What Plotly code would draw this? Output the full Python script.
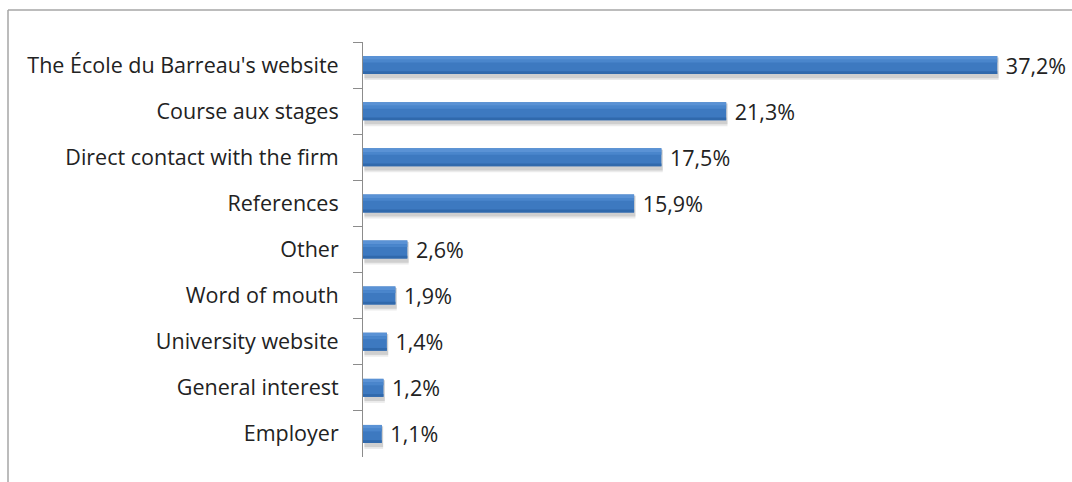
import plotly.graph_objects as go

categories = [
    "The École du Barreau's website",
    "Course aux stages",
    "Direct contact with the firm",
    "References",
    "Other",
    "Word of mouth",
    "University website",
    "General interest",
    "Employer",
]
shares = [37.2, 21.3, 17.5, 15.9, 2.6, 1.9, 1.4, 1.2, 1.1]

W, H = 1072, 482
L, R, T, B = 363, 27, 42, 25
pw, ph = W - L - R, H - T - B

def px_x(p):
    return (p - L) / pw

def px_y(p):
    return 1 - (p - T) / ph

labels = [" " + f"{v:.1f}%".replace(".", ",") for v in shares]

BAR_W = 0.39          # bar thickness in category units
HALF = BAR_W / 2

fig = go.Figure()

# soft drop shadow under each bar
for extra, alpha in [(0.10, 0.10), (0.06, 0.16)]:
    fig.add_trace(go.Bar(
        y=categories, x=shares, orientation="h",
        base=0.08,
        offset=-HALF + 0.03, width=BAR_W + extra,
        marker=dict(color=f"rgba(60,60,60,{alpha})", line=dict(width=0)),
        hoverinfo="skip",
    ))

# main bar body
fig.add_trace(go.Bar(
    y=categories, x=shares, orientation="h",
    offset=-HALF, width=BAR_W,
    marker=dict(color="#3D79C0", line=dict(width=0)),
    text=labels,
    textposition="outside",
    constraintext="none",
    textfont=dict(size=21.5, color="#222222", family="Open Sans"),
    cliponaxis=False,
    hoverinfo="skip",
))

# lighter upper band and darker lower edge give the bar its sheen
fig.add_trace(go.Bar(
    y=categories, x=shares, orientation="h",
    offset=-HALF, width=0.08,
    marker=dict(color="#5A92D5", line=dict(width=0)),
    hoverinfo="skip",
))
fig.add_trace(go.Bar(
    y=categories, x=shares, orientation="h",
    offset=-HALF + 0.08, width=0.06,
    marker=dict(color="#4A86CC", line=dict(width=0)),
    hoverinfo="skip",
))
fig.add_trace(go.Bar(
    y=categories, x=shares, orientation="h",
    offset=HALF - 0.06, width=0.06,
    marker=dict(color="#3069AC", line=dict(width=0)),
    hoverinfo="skip",
))

# light frame along the top and left edges
frame = dict(type="line", xref="paper", yref="paper",
             line=dict(color="#a6a6a6", width=1.5))
fig.add_shape(**frame, x0=px_x(8), x1=px_x(W + 5), y0=px_y(10), y1=px_y(10))
fig.add_shape(**frame, x0=px_x(8), x1=px_x(8), y0=px_y(10), y1=px_y(H + 5))

fig.update_layout(
    width=W, height=H,
    margin=dict(l=L, r=R, t=T, b=B, pad=0),
    paper_bgcolor="white", plot_bgcolor="white",
    showlegend=False,
    barmode="overlay",
    font=dict(family="Open Sans", size=21.5, color="#222222"),
    xaxis=dict(range=[0, 40], visible=False, fixedrange=True),
    yaxis=dict(
        autorange="reversed",
        showline=True, linecolor="#8c8c8c", linewidth=1,
        ticks="outside", ticklen=9, tickcolor="#8c8c8c", tickwidth=1,
        tickson="boundaries",
        ticklabelstandoff=19,
        tickfont=dict(size=21.5, color="#222222", family="Open Sans"),
        showgrid=False, zeroline=False, fixedrange=True,
    ),
)

fig.write_html("out.html")
